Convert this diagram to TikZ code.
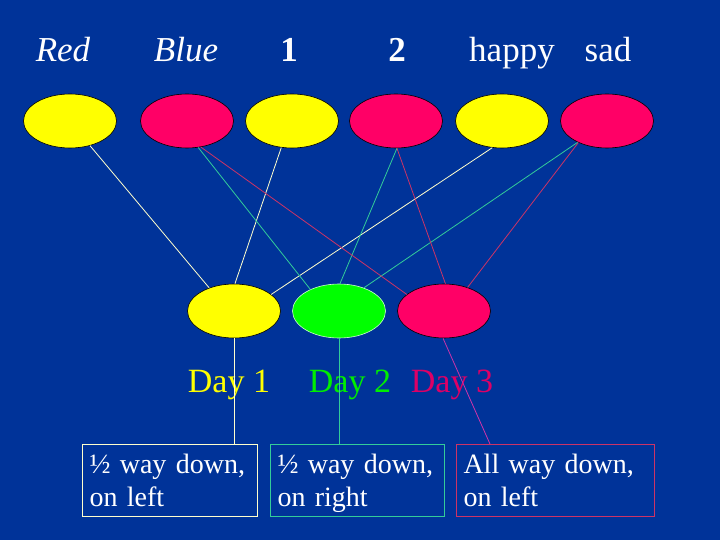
\documentclass[tikz,border=0pt]{standalone}
\usepackage{fontspec}
\setmainfont{Liberation Serif}
\usetikzlibrary{positioning,shapes}
\definecolor{bgblue}{HTML}{003399}
\definecolor{yfill}{HTML}{FFFF00}
\definecolor{pfill}{HTML}{FF0066}
\definecolor{gfill}{HTML}{00FF00}
\definecolor{gedge}{HTML}{CCFFCC}
\definecolor{yline}{HTML}{FFFFCC}
\definecolor{gline}{HTML}{33CC99}
\definecolor{rline}{HTML}{CC3366}
\definecolor{mline}{HTML}{CC33AA}
\definecolor{daygreen}{HTML}{00EE00}
\definecolor{daypink}{HTML}{DD0066}
\tikzset{
board/.style={x=1pt,y=-1pt,semithick},
blob/.style={ellipse,draw=black,minimum width=93pt,minimum height=54pt,inner sep=0pt},
yblob/.style={blob,fill=yfill},
pblob/.style={blob,fill=pfill},
gblob/.style={blob,fill=gfill,draw=gedge},
tag/.style={text=white,anchor=base,font=\fontsize{35}{42}\selectfont},
daytag/.style={anchor=base,font=\fontsize{34}{40}\selectfont},
note/.style={draw=#1,text=white,align=left,anchor=north west,inner xsep=7pt,
inner ysep=0pt,minimum height=72pt,line width=1pt,font=\fontsize{28}{33}\selectfont},
link/.style={draw=#1,line width=0.8pt},
}

\begin{document}
\begin{tikzpicture}[board]
                \fill[bgblue] (0,0) rectangle (720,540);
                \useasboundingbox (0,0) rectangle (720,540);

                % top row
                \node[tag] (tred) at (63,62) {\itshape Red};
                \node[tag] (tblue) at (186,62) {\itshape Blue};
                \node[tag] (tone) at (289,62) {\bfseries 1};
                \node[tag] (ttwo) at (397,62) {\bfseries 2};
                \node[tag] (thappy) at (512,62) {happy};
                \node[tag] (tsad) at (608,62) {sad};

                \node[yblob] (e1) at (70,121) {};
                \node[pblob] (e2) at (187,121) {};
                \node[yblob] (e3) at (292,121) {};
                \node[pblob] (e4) at (396,121) {};
                \node[yblob] (e5) at (502,121) {};
                \node[pblob] (e6) at (607,121) {};

                % days
                \node[yblob] (d1) at (234,311) {};
                \node[gblob] (d2) at (339,311) {};
                \node[pblob] (d3) at (444,311) {};

                \node[daytag,text=yfill] (l1) at (229,392) {Day 1};
                \node[daytag,text=daygreen] (l2) at (350,392) {Day 2};
                \node[daytag,text=daypink] (l3) at (452,392) {Day 3};

                \node[note=yline,text width=161pt] (b1) at (82,444) {\rule{0pt}{28pt}½ way down,\\on left\strut};
                \node[note=gline,text width=160pt] (b2) at (270,444) {\rule{0pt}{28pt}½ way down,\\on right\strut};
                \node[note=rline,text width=184pt] (b3) at (456,444) {\rule{0pt}{28pt}All way down,\\on left\strut};
                \coordinate (b3in) at ([xshift=34pt]b3.north west);

                \path (e1.-51) edge[link=yline] (d1.137);
                \path (e3.-112) edge[link=yline] (d1.88);
                \path (e5.-110) edge[link=yline] (d1.24);
                \path (e2.-67) edge[link=gline] (d2.143);
                \path (e4.-88) edge[link=gline] (d2.88);
                \path (e6.-144) edge[link=gline] (d2.43);
                \path (e2.-62) edge[link=rline] (d3.156);
                \path (e4.-88) edge[link=rline] (d3.87);
                \path (e6.-143) edge[link=rline] (d3.45);

                \path (d1.south) edge[link=yline] (d1.south |- b1.north);
                \path (d2.south) edge[link=gline] (d2.south |- b2.north);
                \path (d3.-92) edge[link=mline] (b3in);
            \end{tikzpicture}
\end{document}
